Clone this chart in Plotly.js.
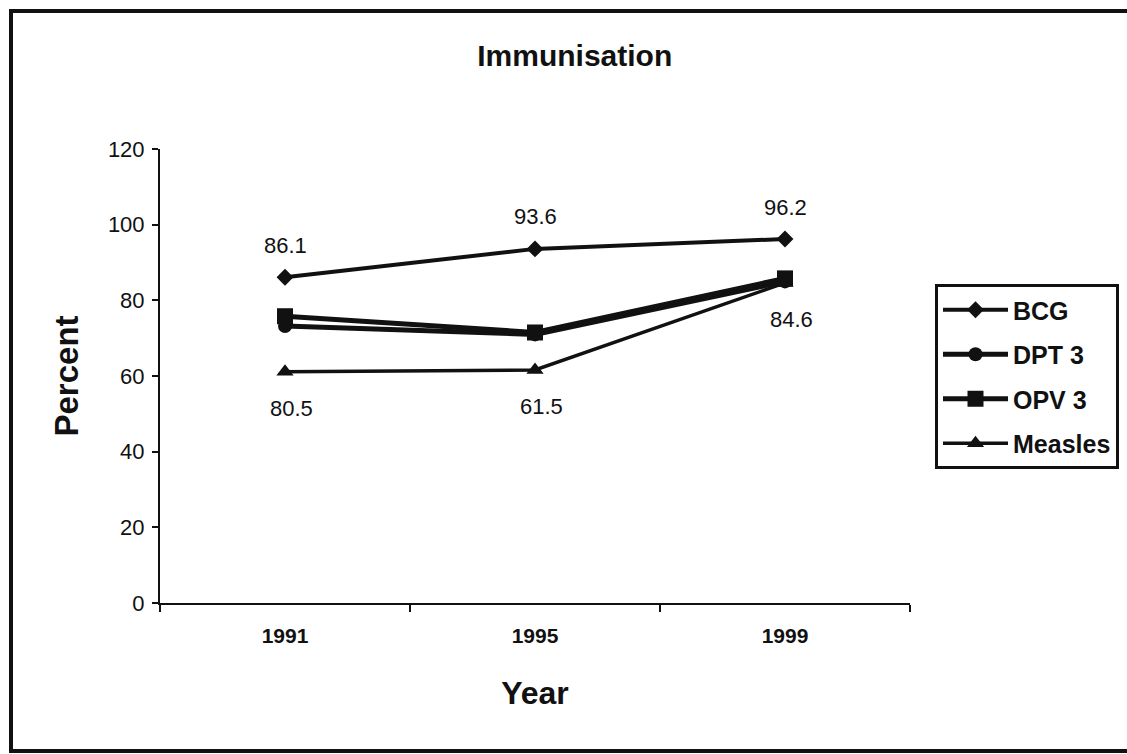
<!DOCTYPE html>
<html>
<head>
<meta charset="utf-8">
<script src="https://cdn.plot.ly/plotly-3.0.1.min.js"></script>
<style>
  html, body { margin: 0; padding: 0; background: #fff; overflow: hidden; }
  #wrap { position: relative; width: 1127px; height: 754px; overflow: hidden; }
  #frame { position: absolute; left: 9px; top: 9px; width: 1200px; height: 736px; border: 4px solid #111; border-right: none; box-sizing: content-box; pointer-events: none; }
  #chart { position: absolute; left: 0; top: 0; width: 1127px; height: 754px; }
</style>
</head>
<body>
<div id="wrap">
  <div id="chart"></div>
  <div id="frame"></div>
</div>
<script>
// ---- data ----
const years = ['1991', '1995', '1999'];
const bcg = [86.1, 93.6, 96.2];
const dpt3 = [73.2, 71.0, 85.0];
const opv3 = [75.8, 71.5, 85.8];
const measles = [61.1, 61.6, 84.6];
const bcgLabels = ['86.1', '93.6', '96.2'];
const measlesLabels = ['80.5', '61.5', '84.6'];

const ink = '#111111';
const font = 'Arial, "Liberation Sans", Helvetica, sans-serif';

const series = [
  { name: 'BCG', y: bcg, symbol: 'diamond', size: 13, width: 4 },
  { name: 'DPT 3', y: dpt3, symbol: 'circle', size: 14, width: 5 },
  { name: 'OPV 3', y: opv3, symbol: 'square', size: 16, width: 5 },
  { name: 'Measles', y: measles, symbol: 'triangle-up', size: 15, width: 3.5 }
];

const traces = series.map((s, i) => ({
  type: 'scatter',
  mode: 'lines+markers',
  name: s.name,
  legendgroup: 'g' + i,
  x: years,
  y: s.y,
  line: { color: ink, width: s.width },
  marker: { symbol: s.symbol, size: s.size, color: ink, line: { width: 0 } },
  hoverinfo: 'x+y+name'
}));

// data labels: x given as category index (numeric-looking category names
// would otherwise be read as raw positions by annotations)
const annotations = [];
years.forEach((yr, i) => {
  annotations.push({
    x: i, y: bcg[i], xref: 'x', yref: 'y', text: bcgLabels[i],
    showarrow: false, yshift: 32, xanchor: 'center', yanchor: 'middle',
    font: { family: font, size: 22, color: ink }
  });
  annotations.push({
    x: i, y: measles[i], xref: 'x', yref: 'y', text: measlesLabels[i],
    showarrow: false, yshift: -37, xshift: 6, xanchor: 'center', yanchor: 'middle',
    font: { family: font, size: 22, color: ink }
  });
});

const layout = {
  width: 1127,
  height: 754,
  margin: { l: 160, r: 217, t: 149, b: 151, pad: 0 },
  paper_bgcolor: '#ffffff',
  plot_bgcolor: '#ffffff',
  font: { family: font, color: ink },
  showlegend: true,
  title: {
    text: '<b>Immunisation</b>',
    font: { family: font, size: 30, color: ink },
    x: 0.51, xref: 'container', xanchor: 'center',
    y: 1 - 55 / 754, yref: 'container', yanchor: 'middle'
  },
  xaxis: {
    type: 'category',
    range: [-0.5, 2.5],
    tickson: 'boundaries',
    ticks: 'outside', ticklen: 7, tickwidth: 2, tickcolor: ink,
    showline: true, linewidth: 2, linecolor: ink,
    showgrid: false, zeroline: false,
    tickfont: { family: font, size: 21, color: ink, weight: 'bold' },
    ticklabelstandoff: 13,
    title: { text: '<b>Year</b>', font: { family: font, size: 32, color: ink }, standoff: 35 }
  },
  yaxis: {
    range: [0, 120],
    dtick: 20,
    ticks: 'outside', ticklen: 6, tickwidth: 2, tickcolor: ink,
    showline: true, linewidth: 2, linecolor: ink,
    showgrid: false, zeroline: false,
    tickfont: { family: font, size: 22, color: ink },
    ticklabelstandoff: 3,
    title: { text: '<b>Percent</b>', font: { family: font, size: 33, color: ink }, standoff: 19 }
  },
  legend: {
    xref: 'container', yref: 'container',
    x: 935 / 1127, xanchor: 'left',
    y: 1 - 284 / 754, yanchor: 'top',
    bgcolor: '#ffffff', bordercolor: ink, borderwidth: 3,
    font: { family: font, size: 25, color: ink, weight: 'bold' },
    traceorder: 'grouped',
    tracegroupgap: 9,
    itemwidth: 65
  },
  annotations: annotations
};

Plotly.newPlot('chart', traces, layout, { displayModeBar: false, staticPlot: true });
</script>
</body>
</html>
